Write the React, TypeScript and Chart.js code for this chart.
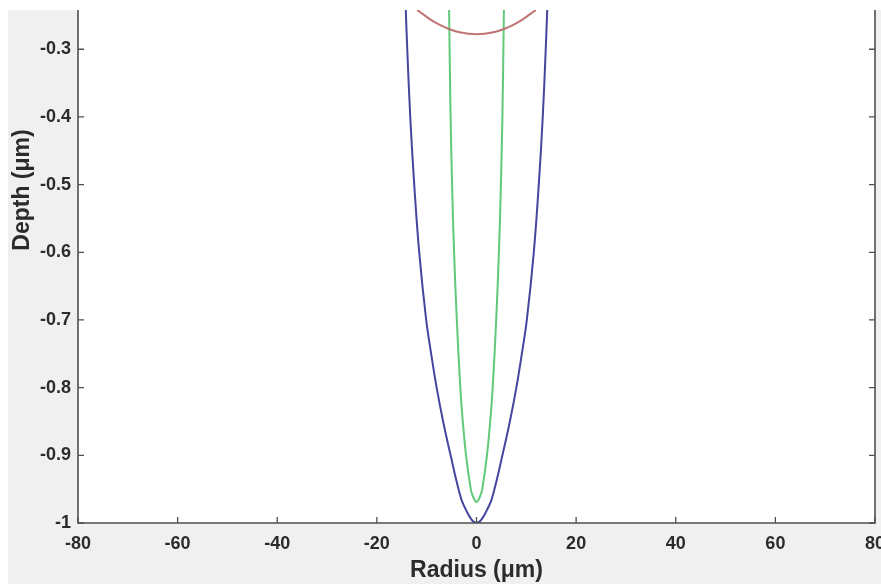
import React, { useEffect, useRef } from "react";
import { Chart, registerables } from "chart.js";

Chart.register(...registerables);

// ---- data ----
const xTicks = [-80, -60, -40, -20, 0, 20, 40, 60, 80];
const yTicks = [-1, -0.9, -0.8, -0.7, -0.6, -0.5, -0.4, -0.3];
const xMin = -80;
const xMax = 80;
const yMin = -1;
const yMax = -0.242;

const xTitle = "Radius (μm)";
const yTitle = "Depth (μm)";

// blue profile
const blueRadius = [-14.2, -13.9, -13.3, -12.5, -11.5, -10.1, -9.1, -8.0, -6.7, -5.2, -3.6, -2.5, 0, 2.5, 3.6, 5.2, 6.7, 8.0, 9.1, 10.1, 11.5, 12.5, 13.3, 13.9, 14.2];
const blueDepth = [-0.242, -0.3, -0.4, -0.5, -0.6, -0.7, -0.75, -0.8, -0.85, -0.9, -0.95, -0.975, -1, -0.975, -0.95, -0.9, -0.85, -0.8, -0.75, -0.7, -0.6, -0.5, -0.4, -0.3, -0.242];

// green profile
const greenRadius = [-5.5, -5.4, -5.2, -4.9, -4.5, -3.95, -3.25, -2.75, -2.1, -1.15, -0.75, 0, 0.75, 1.15, 2.1, 2.75, 3.25, 3.95, 4.5, 4.9, 5.2, 5.4, 5.5];
const greenDepth = [-0.242, -0.3, -0.4, -0.5, -0.6, -0.7, -0.8, -0.85, -0.9, -0.95, -0.96, -0.969, -0.96, -0.95, -0.9, -0.85, -0.8, -0.7, -0.6, -0.5, -0.4, -0.3, -0.242];

// red profile
const redRadius = [-11.9, -10.4, -8.4, -6.2, -3.4, 0, 3.4, 6.2, 8.4, 10.4, 11.9];
const redDepth = [-0.242, -0.25, -0.26, -0.268, -0.275, -0.278, -0.275, -0.268, -0.26, -0.25, -0.242];

const FONT = "'Liberation Sans', Arial, Helvetica, sans-serif";
const TEXT = "#2b2b2b";
const AXIS = "#4f4f4f";

export default function App() {
  const ref = useRef<HTMLCanvasElement>(null);

  useEffect(() => {
    const canvas = ref.current;
    if (!canvas) return;
    const pts = (xs: number[], ys: number[]) => xs.map((x, i) => ({ x, y: ys[i] }));

    const frame = {
      id: "frame",
      beforeDraw(chart: any) {
        const { ctx, chartArea: a, width, height } = chart;
        ctx.save();
        ctx.fillStyle = "#f0f0f0";
        ctx.fillRect(0, 0, width, height);
        ctx.fillStyle = "#ffffff";
        ctx.fillRect(a.left, a.top, a.right - a.left, a.bottom - a.top);
        ctx.restore();
      },
      afterDraw(chart: any) {
        const { ctx, chartArea: a } = chart;
        const xs = chart.scales.x;
        const ys = chart.scales.y;
        const tl = 6;
        ctx.save();
        ctx.strokeStyle = AXIS;
        ctx.lineWidth = 1.6;
        ctx.beginPath();
        ctx.moveTo(a.left, a.top);
        ctx.lineTo(a.left, a.bottom);
        ctx.lineTo(a.right, a.bottom);
        ctx.lineTo(a.right, a.top);
        ctx.stroke();
        ctx.lineWidth = 1.3;
        ctx.beginPath();
        xs.ticks.forEach((t: any) => {
          const px = xs.getPixelForValue(t.value);
          ctx.moveTo(px, a.bottom);
          ctx.lineTo(px, a.bottom - tl);
        });
        ys.ticks.forEach((t: any) => {
          const py = ys.getPixelForValue(t.value);
          ctx.moveTo(a.left, py);
          ctx.lineTo(a.left + tl, py);
          ctx.moveTo(a.right, py);
          ctx.lineTo(a.right - tl, py);
        });
        ctx.stroke();

        ctx.fillStyle = TEXT;
        ctx.font = `bold 23px ${FONT}`;
        ctx.textAlign = "center";
        ctx.textBaseline = "alphabetic";
        ctx.fillText(xTitle, (a.left + a.right) / 2, 567);
        ctx.translate(20.5, 180);
        ctx.rotate(-Math.PI / 2);
        ctx.fillText(yTitle, 0, 0);
        ctx.restore();
      },
    };

    const tickFont = { family: FONT, size: 18, weight: "bold" as const };

    const line = (color: string) => ({
      showLine: true,
      borderColor: color,
      borderWidth: 2,
      pointRadius: 0,
      tension: 0.4,
    });

    const chart = new Chart(canvas, {
      type: "scatter",
      data: {
        datasets: [
          { data: pts(redRadius, redDepth), ...line("#c07474") },
          { data: pts(blueRadius, blueDepth), ...line("#46469e") },
          { data: pts(greenRadius, greenDepth), ...line("#63c97a") },
        ],
      },
      options: {
        animation: false,
        responsive: false,
        maintainAspectRatio: false,
        layout: { padding: { top: 0, right: 6, left: 0, bottom: 0 } },
        plugins: { legend: { display: false }, tooltip: { enabled: false } },
        scales: {
          x: {
            type: "linear",
            min: xMin,
            max: xMax,
            grid: { display: false, drawTicks: false },
            border: { display: false },
            afterBuildTicks: (s: any) => {
              s.ticks = xTicks.map((v) => ({ value: v }));
            },
            afterFit: (s: any) => {
              s.height = 61;
              s.paddingLeft = 0;
              s.paddingRight = 0;
            },
            ticks: {
              font: tickFont,
              color: TEXT,
              padding: 10,
              maxRotation: 0,
              autoSkip: false,
              callback: (v: any) => String(v),
            },
          },
          y: {
            type: "linear",
            min: yMin,
            max: yMax,
            grid: { display: false, drawTicks: false },
            border: { display: false },
            afterBuildTicks: (s: any) => {
              s.ticks = yTicks.map((v) => ({ value: v }));
            },
            afterFit: (s: any) => {
              s.width = 70;
              s.paddingTop = 0;
              s.paddingBottom = 0;
            },
            ticks: {
              font: tickFont,
              color: TEXT,
              padding: 7,
              autoSkip: false,
              callback: (v: any) => String(v),
            },
          },
        },
      },
      plugins: [frame],
    });
    return () => chart.destroy();
  }, []);

  return (
    <div style={{ position: "absolute", left: 8, top: 10, width: 873, height: 574 }}>
      <canvas ref={ref} width={873} height={574} style={{ display: "block", width: 873, height: 574 }} />
    </div>
  );
}
